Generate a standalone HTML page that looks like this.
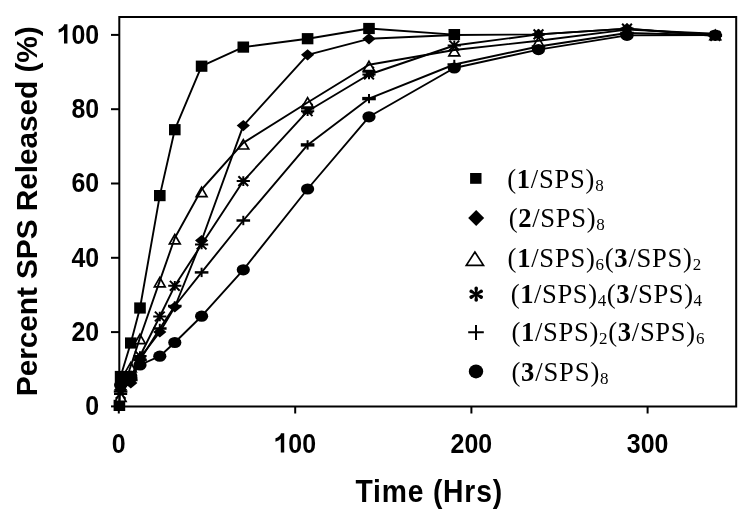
<!DOCTYPE html>
<html><head><meta charset="utf-8"><style>
html,body{margin:0;padding:0;background:#fff;}
svg{display:block;filter:grayscale(1);}
.tk{font-family:"Liberation Sans",sans-serif;font-weight:bold;font-size:28px;}
.tt{font-family:"Liberation Sans",sans-serif;font-weight:bold;font-size:29px;}
.lg{font-family:"Liberation Serif",serif;font-size:26.6px;}
.sb{font-size:17px;}
</style></head><body>
<svg width="750" height="518" viewBox="0 0 750 518">
<rect width="750" height="518" fill="#fff"/>
<g><rect x="113.6" y="399.8" width="11.6" height="11.2"/><rect x="114.8" y="370.9" width="11.6" height="11.2"/><rect x="125.0" y="337.4" width="11.6" height="11.2"/><rect x="134.2" y="302.4" width="11.6" height="11.2"/><rect x="154.0" y="190.0" width="11.6" height="11.2"/><rect x="169.0" y="124.1" width="11.6" height="11.2"/><rect x="195.8" y="60.6" width="11.6" height="11.2"/><rect x="237.5" y="41.5" width="11.6" height="11.2"/><rect x="301.8" y="33.1" width="11.6" height="11.2"/><rect x="363.2" y="22.9" width="11.6" height="11.2"/><rect x="448.5" y="29.0" width="11.6" height="11.2"/><path d="M120.6 383.9L127.2 389.5L120.6 395.1L114.0 389.5Z"/><path d="M130.8 377.4L137.4 383.0L130.8 388.6L124.2 383.0Z"/><path d="M140.0 352.4L146.6 358.0L140.0 363.6L133.4 358.0Z"/><path d="M159.8 326.4L166.4 332.0L159.8 337.6L153.2 332.0Z"/><path d="M174.8 301.4L181.4 307.0L174.8 312.6L168.2 307.0Z"/><path d="M201.6 234.9L208.2 240.5L201.6 246.1L195.0 240.5Z"/><path d="M243.3 120.0L249.9 125.6L243.3 131.2L236.7 125.6Z"/><path d="M307.6 49.2L314.2 54.8L307.6 60.4L301.0 54.8Z"/><path d="M369.0 33.2L375.6 38.8L369.0 44.4L362.4 38.8Z"/><path d="M454.3 29.4L460.9 35.0L454.3 40.6L447.7 35.0Z"/><path d="M538.5 28.8L545.1 34.4L538.5 40.0L531.9 34.4Z"/><path d="M627.0 23.0L633.6 28.6L627.0 34.2L620.4 28.6Z"/><path d="M715.3 29.7L721.9 35.3L715.3 40.9L708.7 35.3Z"/><path d="M113.8 391.5H127.4" stroke="#000" stroke-width="2.5" fill="none"/><path d="M120.6 386.8V396.2" stroke="#000" stroke-width="2" fill="none"/><path d="M124.0 380.0H137.6" stroke="#000" stroke-width="2.5" fill="none"/><path d="M130.8 375.3V384.7" stroke="#000" stroke-width="2" fill="none"/><path d="M133.2 360.0H146.8" stroke="#000" stroke-width="2.5" fill="none"/><path d="M140.0 355.3V364.7" stroke="#000" stroke-width="2" fill="none"/><path d="M153.0 328.5H166.6" stroke="#000" stroke-width="2.5" fill="none"/><path d="M159.8 323.8V333.2" stroke="#000" stroke-width="2" fill="none"/><path d="M168.0 306.0H181.6" stroke="#000" stroke-width="2.5" fill="none"/><path d="M174.8 301.3V310.7" stroke="#000" stroke-width="2" fill="none"/><path d="M194.8 272.4H208.4" stroke="#000" stroke-width="2.5" fill="none"/><path d="M201.6 267.7V277.1" stroke="#000" stroke-width="2" fill="none"/><path d="M236.5 220.5H250.1" stroke="#000" stroke-width="2.5" fill="none"/><path d="M243.3 215.8V225.2" stroke="#000" stroke-width="2" fill="none"/><path d="M300.8 144.9H314.4" stroke="#000" stroke-width="3.4" fill="none"/><path d="M307.6 140.2V149.6" stroke="#000" stroke-width="2" fill="none"/><path d="M362.2 98.6H375.8" stroke="#000" stroke-width="3.4" fill="none"/><path d="M369.0 93.9V103.3" stroke="#000" stroke-width="2" fill="none"/><path d="M447.5 64.5H461.1" stroke="#000" stroke-width="2.5" fill="none"/><path d="M454.3 59.8V69.2" stroke="#000" stroke-width="2" fill="none"/><path d="M531.7 46.5H545.3" stroke="#000" stroke-width="2.5" fill="none"/><path d="M538.5 41.8V51.2" stroke="#000" stroke-width="2" fill="none"/><path d="M620.2 33.0H633.8" stroke="#000" stroke-width="2.5" fill="none"/><path d="M627.0 28.3V37.7" stroke="#000" stroke-width="2" fill="none"/><path d="M708.5 35.3H722.1" stroke="#000" stroke-width="2.5" fill="none"/><path d="M715.3 30.6V40.0" stroke="#000" stroke-width="2" fill="none"/><path d="M114.0 393.9H127.2M120.6 389.1V398.7M115.7 389.0L125.5 398.8M115.7 398.8L125.5 389.0" stroke="#000" stroke-width="2" fill="none"/><path d="M124.2 378.0H137.4M130.8 373.2V382.8M125.9 373.1L135.7 382.9M125.9 382.9L135.7 373.1" stroke="#000" stroke-width="2" fill="none"/><path d="M133.4 356.0H146.6M140.0 351.2V360.8M135.1 351.1L144.9 360.9M135.1 360.9L144.9 351.1" stroke="#000" stroke-width="2" fill="none"/><path d="M153.2 316.5H166.4M159.8 311.7V321.3M154.9 311.6L164.7 321.4M154.9 321.4L164.7 311.6" stroke="#000" stroke-width="2" fill="none"/><path d="M168.2 285.8H181.4M174.8 281.0V290.6M169.9 280.9L179.7 290.7M169.9 290.7L179.7 280.9" stroke="#000" stroke-width="2" fill="none"/><path d="M195.0 244.5H208.2M201.6 239.7V249.3M196.7 239.6L206.5 249.4M196.7 249.4L206.5 239.6" stroke="#000" stroke-width="2" fill="none"/><path d="M236.7 181.1H249.9M243.3 176.3V185.9M238.4 176.2L248.2 186.0M238.4 186.0L248.2 176.2" stroke="#000" stroke-width="2" fill="none"/><path d="M301.0 111.2H314.2M307.6 106.4V116.0M302.7 106.3L312.5 116.1M302.7 116.1L312.5 106.3" stroke="#000" stroke-width="2" fill="none"/><path d="M362.4 74.5H375.6M369.0 69.7V79.3M364.1 69.6L373.9 79.4M364.1 79.4L373.9 69.6" stroke="#000" stroke-width="2" fill="none"/><path d="M447.7 45.5H460.9M454.3 40.7V50.3M449.4 40.6L459.2 50.4M449.4 50.4L459.2 40.6" stroke="#000" stroke-width="2" fill="none"/><path d="M531.9 34.4H545.1M538.5 29.6V39.2M533.6 29.5L543.4 39.3M533.6 39.3L543.4 29.5" stroke="#000" stroke-width="2" fill="none"/><path d="M620.4 28.6H633.6M627.0 23.8V33.4M622.1 23.7L631.9 33.5M622.1 33.5L631.9 23.7" stroke="#000" stroke-width="2" fill="none"/><path d="M708.7 36.0H721.9M715.3 31.2V40.8M710.4 31.1L720.2 40.9M710.4 40.9L720.2 31.1" stroke="#000" stroke-width="2" fill="none"/><path d="M301.0 108.6H314.2M307.6 103.8V113.4M302.7 103.7L312.5 113.5M302.7 113.5L312.5 103.7" stroke="#000" stroke-width="2" fill="none"/><path d="M362.4 71.8H375.6M369.0 67.0V76.6M364.1 66.9L373.9 76.7M364.1 76.7L373.9 66.9" stroke="#000" stroke-width="2" fill="none"/><path d="M120.6 392.0L126.0 401.4L115.2 401.4Z" fill="#fff" stroke="#000" stroke-width="1.7"/><path d="M130.8 362.5L136.2 371.9L125.4 371.9Z" fill="#fff" stroke="#000" stroke-width="1.7"/><path d="M140.0 334.3L145.4 343.7L134.6 343.7Z" fill="#fff" stroke="#000" stroke-width="1.7"/><path d="M159.8 277.4L165.2 286.8L154.4 286.8Z" fill="#fff" stroke="#000" stroke-width="1.7"/><path d="M174.8 234.5L180.2 243.9L169.4 243.9Z" fill="#fff" stroke="#000" stroke-width="1.7"/><path d="M201.6 187.3L207.0 196.7L196.2 196.7Z" fill="#fff" stroke="#000" stroke-width="1.7"/><path d="M243.3 139.6L248.7 149.0L237.9 149.0Z" fill="#fff" stroke="#000" stroke-width="1.7"/><path d="M307.6 97.6L313.0 107.0L302.2 107.0Z" fill="#fff" stroke="#000" stroke-width="1.7"/><path d="M369.0 61.3L374.4 70.7L363.6 70.7Z" fill="#fff" stroke="#000" stroke-width="1.7"/><path d="M454.3 46.5L459.7 55.9L448.9 55.9Z" fill="#fff" stroke="#000" stroke-width="1.7"/><path d="M538.5 37.3L543.9 46.7L533.1 46.7Z" fill="#fff" stroke="#000" stroke-width="1.7"/><path d="M627.0 26.1L632.4 35.5L621.6 35.5Z" fill="#fff" stroke="#000" stroke-width="1.7"/><path d="M715.3 30.3L720.7 39.7L709.9 39.7Z" fill="#fff" stroke="#000" stroke-width="1.7"/><ellipse cx="120.6" cy="385.0" rx="6.6" ry="5.6"/><ellipse cx="130.8" cy="376.0" rx="6.6" ry="5.6"/><ellipse cx="140.0" cy="365.0" rx="6.6" ry="5.6"/><ellipse cx="159.8" cy="356.2" rx="6.6" ry="5.6"/><ellipse cx="174.8" cy="342.5" rx="6.6" ry="5.6"/><ellipse cx="201.6" cy="316.2" rx="6.6" ry="5.6"/><ellipse cx="243.3" cy="269.8" rx="6.6" ry="5.6"/><ellipse cx="307.6" cy="189.0" rx="6.6" ry="5.6"/><ellipse cx="369.0" cy="116.8" rx="6.6" ry="5.6"/><ellipse cx="454.3" cy="68.0" rx="6.6" ry="5.6"/><ellipse cx="538.5" cy="49.6" rx="6.6" ry="5.6"/><ellipse cx="627.0" cy="35.4" rx="6.6" ry="5.6"/><ellipse cx="715.3" cy="35.0" rx="6.6" ry="5.6"/></g>
<g><polyline points="119.4,405.4 120.6,376.5 130.8,343.0 140.0,308.0 159.8,195.6 174.8,129.7 201.6,66.2 243.3,47.1 307.6,38.7 369.0,28.5 454.3,34.6" fill="none" stroke="#000" stroke-width="1.9" stroke-linejoin="round"/><polyline points="120.6,389.5 130.8,383.0 140.0,358.0 159.8,332.0 174.8,307.0 201.6,240.5 243.3,125.6 307.6,54.8 369.0,38.8 454.3,35.0 538.5,34.4 627.0,28.6 715.3,35.3" fill="none" stroke="#000" stroke-width="1.9" stroke-linejoin="round"/><polyline points="120.6,391.5 130.8,380.0 140.0,360.0 159.8,328.5 174.8,306.0 201.6,272.4 243.3,220.5 307.6,144.9 369.0,98.6 454.3,64.5 538.5,46.5 627.0,33.0 715.3,35.3" fill="none" stroke="#000" stroke-width="1.9" stroke-linejoin="round"/><polyline points="120.6,393.9 130.8,378.0 140.0,356.0 159.8,316.5 174.8,285.8 201.6,244.5 243.3,181.1 307.6,111.2 369.0,74.5 454.3,45.5 538.5,34.4 627.0,28.6 715.3,36.0" fill="none" stroke="#000" stroke-width="1.9" stroke-linejoin="round"/><polyline points="120.6,395.5 130.8,366.0 140.0,337.8 159.8,280.9 174.8,238.0 201.6,189.5 243.3,142.9 307.6,102.5 369.0,64.8 454.3,50.0 538.5,40.8 627.0,29.6 715.3,33.8" fill="none" stroke="#000" stroke-width="1.9" stroke-linejoin="round"/><polyline points="120.6,385.0 130.8,376.0 140.0,365.0 159.8,356.2 174.8,342.5 201.6,316.2 243.3,269.8 307.6,189.0 369.0,116.8 454.3,68.0 538.5,49.6 627.0,35.4 715.3,35.0" fill="none" stroke="#000" stroke-width="1.9" stroke-linejoin="round"/></g>
<path d="M119.3 17.0H736.2V406.6H119.3Z" fill="none" stroke="#000" stroke-width="2"/>
<path d="M111 34.9H119" stroke="#000" stroke-width="2"/><path d="M111 109.2H119" stroke="#000" stroke-width="2"/><path d="M111 183.5H119" stroke="#000" stroke-width="2"/><path d="M111 257.8H119" stroke="#000" stroke-width="2"/><path d="M111 332.1H119" stroke="#000" stroke-width="2"/><path d="M111 406.4H119" stroke="#000" stroke-width="2"/><path d="M118.8 406H118.8V413.5" stroke="#000" stroke-width="2"/><path d="M295.2 406H295.2V413.5" stroke="#000" stroke-width="2"/><path d="M471.4 406H471.4V413.5" stroke="#000" stroke-width="2"/><path d="M647.6 406H647.6V413.5" stroke="#000" stroke-width="2"/>
<g class="tk"><path transform="translate(57.62 43.60) scale(0.01217 -0.01367)" d="M806 0L525 0L525 1015C420 925 297 855 87 795L87 1042C200 1076 320 1134 410 1211C480 1270 520 1336 540 1409L806 1409Z"/><text transform="translate(71.48 43.60) scale(0.89 1)">0</text><text transform="translate(85.34 43.60) scale(0.89 1)">0</text><text transform="translate(71.48 117.90) scale(0.89 1)">8</text><text transform="translate(85.34 117.90) scale(0.89 1)">0</text><text transform="translate(71.48 192.20) scale(0.89 1)">6</text><text transform="translate(85.34 192.20) scale(0.89 1)">0</text><text transform="translate(71.48 266.50) scale(0.89 1)">4</text><text transform="translate(85.34 266.50) scale(0.89 1)">0</text><text transform="translate(71.48 340.80) scale(0.89 1)">2</text><text transform="translate(85.34 340.80) scale(0.89 1)">0</text><text transform="translate(85.34 415.10) scale(0.89 1)">0</text><text transform="translate(111.87 452.60) scale(0.89 1)">0</text><path transform="translate(274.41 452.60) scale(0.01217 -0.01367)" d="M806 0L525 0L525 1015C420 925 297 855 87 795L87 1042C200 1076 320 1134 410 1211C480 1270 520 1336 540 1409L806 1409Z"/><text transform="translate(288.27 452.60) scale(0.89 1)">0</text><text transform="translate(302.13 452.60) scale(0.89 1)">0</text><text transform="translate(450.61 452.60) scale(0.89 1)">2</text><text transform="translate(464.47 452.60) scale(0.89 1)">0</text><text transform="translate(478.33 452.60) scale(0.89 1)">0</text><text transform="translate(626.81 452.60) scale(0.89 1)">3</text><text transform="translate(640.67 452.60) scale(0.89 1)">0</text><text transform="translate(654.53 452.60) scale(0.89 1)">0</text></g>
<text class="tt" transform="translate(355.5 501.5) scale(1 1.1)" style="font-size:28.3px" textLength="146.6" lengthAdjust="spacing">Time (Hrs)</text>
<text class="tt" transform="translate(37.3 396.2) rotate(-90)" style="font-size:29.9px" textLength="370" lengthAdjust="spacing">Percent SPS Released (%)</text>
<g><rect x="470.1" y="173.0" width="11.4" height="10.8"/><text x="507.2" y="187.8" class="lg" textLength="96.5" lengthAdjust="spacing">(<tspan font-weight="bold">1</tspan>/SPS)<tspan class="sb" dy="3.0">8</tspan></text><path d="M476.2 209.9L484.2 217.9L476.2 225.9L468.2 217.9Z"/><text x="508.8" y="227.0" class="lg" textLength="96.0" lengthAdjust="spacing">(<tspan font-weight="bold">2</tspan>/SPS)<tspan class="sb" dy="3.0">8</tspan></text><path d="M474.9 252.0L483.5 265.3L466.3 265.3Z" fill="#fff" stroke="#000" stroke-width="1.7"/><text x="507.6" y="266.6" class="lg" textLength="193.6" lengthAdjust="spacing">(<tspan font-weight="bold">1</tspan>/SPS)<tspan class="sb" dy="3.0">6</tspan><tspan dy="-3.0">(</tspan><tspan font-weight="bold">3</tspan>/SPS)<tspan class="sb" dy="3.0">2</tspan></text><path d="M477.05 294.20L478.00 288.40A1.8 1.8 0 0 0 474.40 288.40L475.35 294.20ZM476.62 294.94L482.12 292.86A1.8 1.8 0 0 0 480.32 289.74L475.77 293.46ZM475.77 294.94L480.32 298.66A1.8 1.8 0 0 0 482.12 295.54L476.62 293.46ZM475.35 294.20L474.40 300.00A1.8 1.8 0 0 0 478.00 300.00L477.05 294.20ZM475.77 293.46L470.28 295.54A1.8 1.8 0 0 0 472.08 298.66L476.62 294.94ZM476.62 293.46L472.08 289.74A1.8 1.8 0 0 0 470.28 292.86L475.77 294.94Z"/><circle cx="476.20" cy="294.20" r="1.5"/><text x="510.8" y="302.5" class="lg" textLength="191.3" lengthAdjust="spacing">(<tspan font-weight="bold">1</tspan>/SPS)<tspan class="sb" dy="3.0">4</tspan><tspan dy="-3.0">(</tspan><tspan font-weight="bold">3</tspan>/SPS)<tspan class="sb" dy="3.0">4</tspan></text><path d="M468.2 332.3H483.8M476.0 324.9V339.9" stroke="#000" stroke-width="2" fill="none"/><text x="511.4" y="340.8" class="lg" textLength="193.0" lengthAdjust="spacing">(<tspan font-weight="bold">1</tspan>/SPS)<tspan class="sb" dy="3.0">2</tspan><tspan dy="-3.0">(</tspan><tspan font-weight="bold">3</tspan>/SPS)<tspan class="sb" dy="3.0">6</tspan></text><ellipse cx="476.0" cy="371.4" rx="7.2" ry="7.0"/><text x="511.4" y="380.5" class="lg" textLength="97.2" lengthAdjust="spacing">(<tspan font-weight="bold">3</tspan>/SPS)<tspan class="sb" dy="3.0">8</tspan></text></g>
</svg>
</body></html>
